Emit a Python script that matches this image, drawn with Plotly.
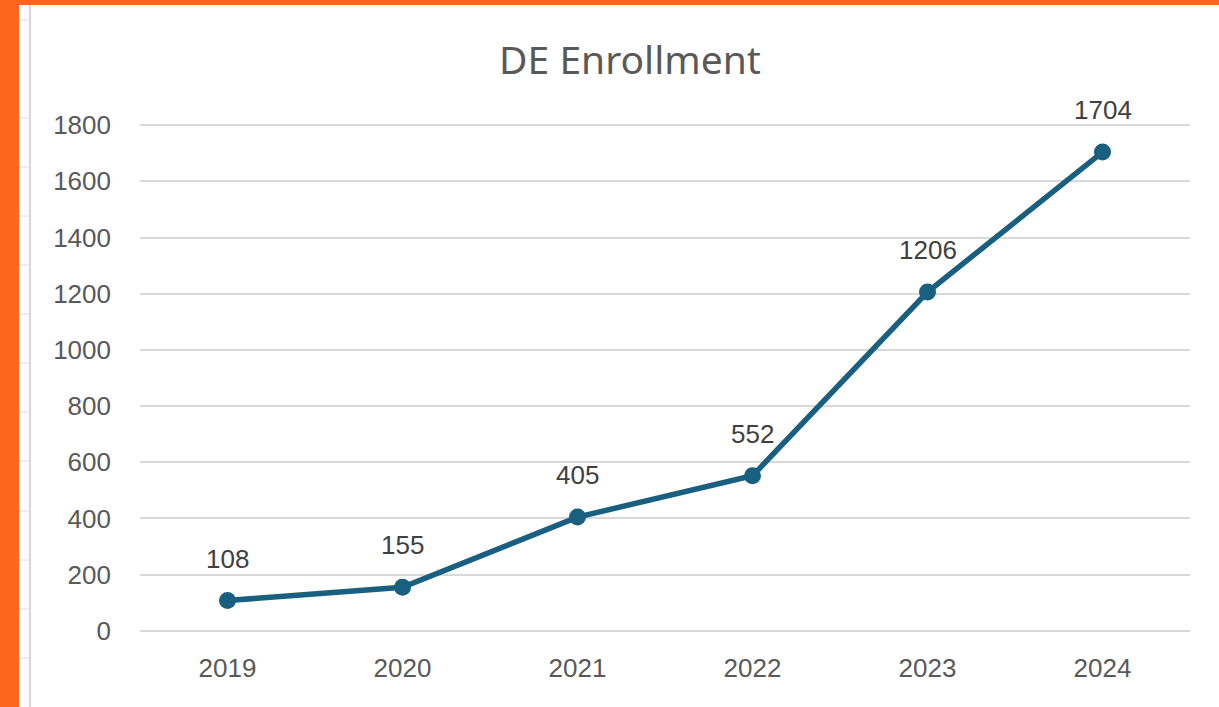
import plotly.graph_objects as go

years = ["2019", "2020", "2021", "2022", "2023", "2024"]
enrollment = [108, 155, 405, 552, 1206, 1704]
y_ticks = [0, 200, 400, 600, 800, 1000, 1200, 1400, 1600, 1800]

W, H = 1219, 707
L, R, T, B = 140, 29, 124, 75
pw, ph = W - L - R, H - T - B


def px(x):
    return (x - L) / pw


def py(y):
    return (H - B - y) / ph


fig = go.Figure()

fig.add_trace(
    go.Scatter(
        x=years,
        y=enrollment,
        mode="lines+markers",
        line={"color": "#195f80", "width": 5.5},
        marker={"color": "#195f80", "size": 17},
        hoverinfo="x+y",
        showlegend=False,
    )
)

# etiquetas de dados acima dos pontos (x como índice da categoria)
for i, v in enumerate(enrollment):
    fig.add_annotation(
        x=i, y=v, text=str(v), showarrow=False, yshift=42,
        font={"family": "Liberation Sans, Arial", "size": 26, "color": "#404040"},
    )

# moldura laranja e linhas da planilha
shapes = [
    dict(type="rect", xref="paper", yref="paper", x0=px(0), x1=px(19), y0=py(H), y1=py(0),
         fillcolor="#fd661e", line={"width": 0}, layer="above"),
    dict(type="rect", xref="paper", yref="paper", x0=px(0), x1=px(W), y0=py(5), y1=py(0),
         fillcolor="#fd661e", line={"width": 0}, layer="above"),
    dict(type="line", xref="paper", yref="paper", x0=px(30), x1=px(30), y0=py(H), y1=py(5),
         line={"color": "#d6d6d6", "width": 2}),
]
for ry in [20, 118, 167, 216, 265, 314, 363, 412, 461, 511, 560, 609, 658]:
    shapes.append(dict(type="line", xref="paper", yref="paper", x0=px(19), x1=px(30),
                       y0=py(ry), y1=py(ry), line={"color": "#dcdcdc", "width": 1}))

fig.update_layout(
    width=W,
    height=H,
    margin={"l": L, "r": R, "t": T, "b": B},
    paper_bgcolor="white",
    plot_bgcolor="white",
    title={
        "text": "DE Enrollment",
        "x": 630 / W,
        "xanchor": "center",
        "y": 1 - 60 / H,
        "yanchor": "middle",
        "yref": "container",
        "font": {"family": "Noto Sans, Open Sans", "size": 39, "color": "#595959"},
    },
    xaxis={
        "type": "category",
        "range": [-0.5, 5.5],
        "showgrid": False,
        "showline": False,
        "zeroline": False,
        "ticks": "",
        "ticklabelstandoff": 18,
        "tickfont": {"family": "Liberation Sans, Arial", "size": 26, "color": "#595959"},
    },
    yaxis={
        "range": [-4, 1804],
        "tickvals": y_ticks,
        "showgrid": True,
        "gridcolor": "#d9d9d9",
        "gridwidth": 1.5,
        "zeroline": False,
        "showline": False,
        "ticks": "",
        "ticklabelstandoff": 28,
        "tickfont": {"family": "Liberation Sans, Arial", "size": 26, "color": "#595959"},
    },
    shapes=shapes,
)

fig.write_html(
    "out.html",
    config={"displayModeBar": False},
    post_script="document.body.style.margin='0';",
)
